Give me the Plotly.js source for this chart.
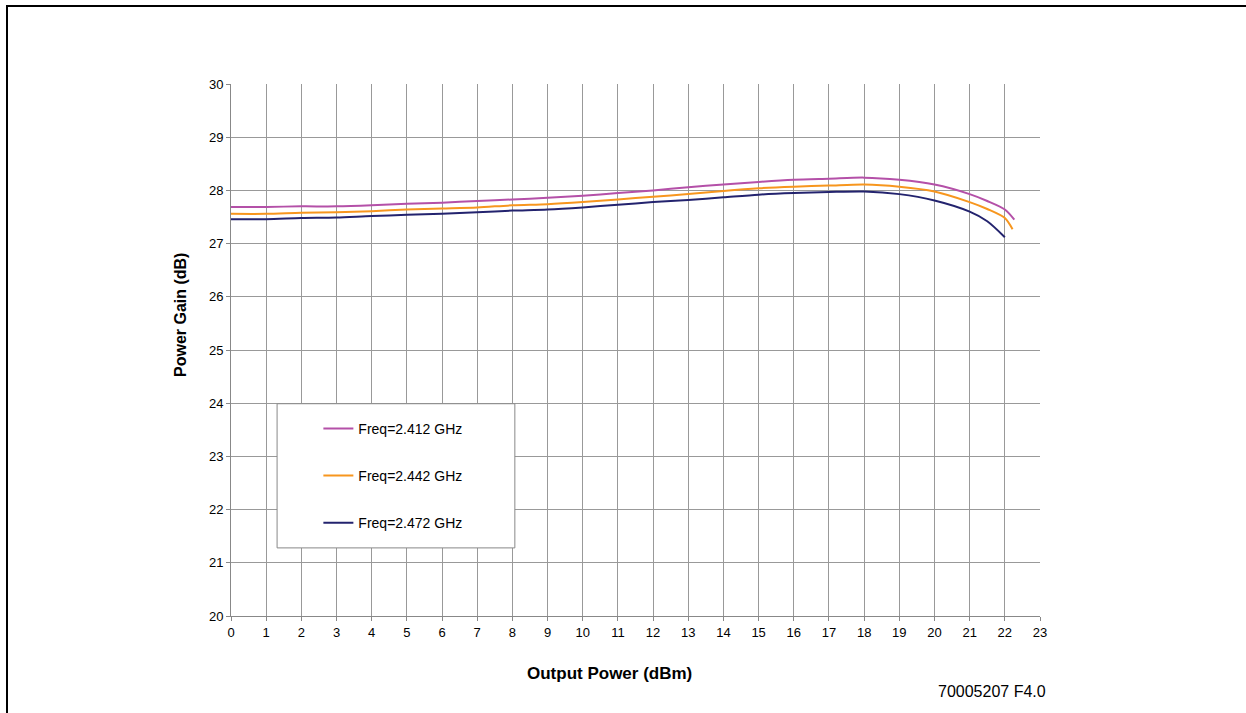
<!DOCTYPE html>
<html>
<head>
<meta charset="utf-8">
<script src="https://cdn.plot.ly/plotly-3.0.1.min.js"></script>
<style>
  html, body { margin: 0; padding: 0; background: #fff; }
  #wrap { position: relative; width: 1246px; height: 713px; overflow: hidden; }
  #chart { position: absolute; left: 0; top: 0; width: 1246px; height: 713px; }
  #frame { position: absolute; left: 6px; top: 5px; width: 1260px; height: 760px;
           border-left: 2px solid #000; border-top: 2px solid #000; pointer-events: none; }
</style>
</head>
<body>
<div id="wrap">
  <div id="chart"></div>
  <div id="frame"></div>
</div>
<script>
// Output power (dBm) sample points for each curve
const x2412 = [0,1,2,3,4,5,6,7,8,9,10,11,12,13,14,15,16,17,18,19,20,21,21.5,22,22.27];
const g2412 = [27.69,27.69,27.70,27.70,27.72,27.75,27.77,27.80,27.83,27.86,27.90,27.95,28.00,28.06,28.11,28.16,28.20,28.22,28.24,28.20,28.11,27.93,27.80,27.64,27.45];

const x2442 = [0,1,2,3,4,5,6,7,8,9,10,11,12,13,14,15,16,17,18,19,20,21,21.5,22,22.22];
const g2442 = [27.56,27.56,27.58,27.59,27.61,27.64,27.66,27.68,27.72,27.74,27.78,27.83,27.88,27.93,27.99,28.04,28.07,28.09,28.11,28.07,27.98,27.78,27.65,27.48,27.27];

const x2472 = [0,1,2,3,4,5,6,7,8,9,10,11,12,13,14,15,16,17,18,19,20,21,21.5,22];
const g2472 = [27.46,27.46,27.48,27.49,27.52,27.54,27.56,27.59,27.62,27.64,27.68,27.73,27.78,27.82,27.87,27.92,27.95,27.97,27.98,27.93,27.81,27.60,27.42,27.12];

const seriesNames = ["Freq=2.412 GHz", "Freq=2.442 GHz", "Freq=2.472 GHz"];
const seriesColors = ["#B450A8", "#F7961E", "#23236E"];
const xTickVals = [0,1,2,3,4,5,6,7,8,9,10,11,12,13,14,15,16,17,18,19,20,21,22,23];
const yTickVals = [20,21,22,23,24,25,26,27,28,29,30];

const xs = [x2412, x2442, x2472];
const ys = [g2412, g2442, g2472];

const traces = xs.map((x, i) => ({
  x: x, y: ys[i], type: 'scatter', mode: 'lines',
  name: seriesNames[i], legendgroup: 'g' + i,
  line: { color: seriesColors[i], width: 2, shape: 'spline', smoothing: 0.8 }
}));

const fontFam = 'Liberation Sans, Arial, sans-serif';
const layout = {
  width: 1246, height: 713,
  margin: { l: 231, r: 206, t: 84, b: 97 },
  paper_bgcolor: '#fff', plot_bgcolor: '#fff',
  font: { family: fontFam, size: 13, color: '#000' },
  showlegend: true,
  xaxis: {
    range: [0, 23], tickvals: xTickVals, ticktext: xTickVals.map(String),
    showgrid: true, gridcolor: '#999', gridwidth: 1,
    showline: true, linecolor: '#888', linewidth: 1, mirror: false,
    ticks: 'outside', ticklen: 4, tickcolor: '#888',
    zeroline: false, tickfont: { size: 13, color: '#000' }, fixedrange: true
  },
  yaxis: {
    range: [20, 30], tickvals: yTickVals, ticktext: yTickVals.map(String),
    showgrid: true, gridcolor: '#999', gridwidth: 1,
    showline: true, linecolor: '#888', linewidth: 1,
    ticks: 'outside', ticklen: 4, tickcolor: '#888',
    zeroline: false, tickfont: { size: 13, color: '#000' }, fixedrange: true
  },
  legend: {
    x: 0.108, y: 0.382, xanchor: 'left', yanchor: 'top',
    bgcolor: 'rgba(0,0,0,0)', borderwidth: 0,
    traceorder: 'grouped', tracegroupgap: 26,
    font: { family: fontFam, size: 14, color: '#000' }
  },
  shapes: [{
    type: 'rect', xref: 'x', yref: 'y', layer: 'between',
    x0: 1.31, x1: 8.07, y0: 21.28, y1: 23.99,
    fillcolor: '#fff', line: { color: '#888', width: 1 }
  }],
  annotations: [
    { text: '<b>Output Power (dBm)</b>', xref: 'paper', yref: 'paper',
      x: (609 - 231) / 809, y: -(673 - 616) / 532, xanchor: 'center', yanchor: 'middle',
      showarrow: false, font: { family: fontFam, size: 17, color: '#000' } },
    { text: '<b>Power Gain (dB)</b>', xref: 'paper', yref: 'paper', textangle: -90,
      x: -(231 - 180) / 809, y: (616 - 315) / 532, xanchor: 'center', yanchor: 'middle',
      showarrow: false, font: { family: fontFam, size: 16, color: '#000' } },
    { text: '70005207 F4.0', xref: 'paper', yref: 'paper',
      x: (1048 - 231) / 809, y: -(691 - 616) / 532, xanchor: 'right', yanchor: 'middle',
      showarrow: false, font: { family: fontFam, size: 16, color: '#000' } }
  ]
};

Plotly.newPlot('chart', traces, layout, { displayModeBar: false, staticPlot: true });
</script>
</body>
</html>
